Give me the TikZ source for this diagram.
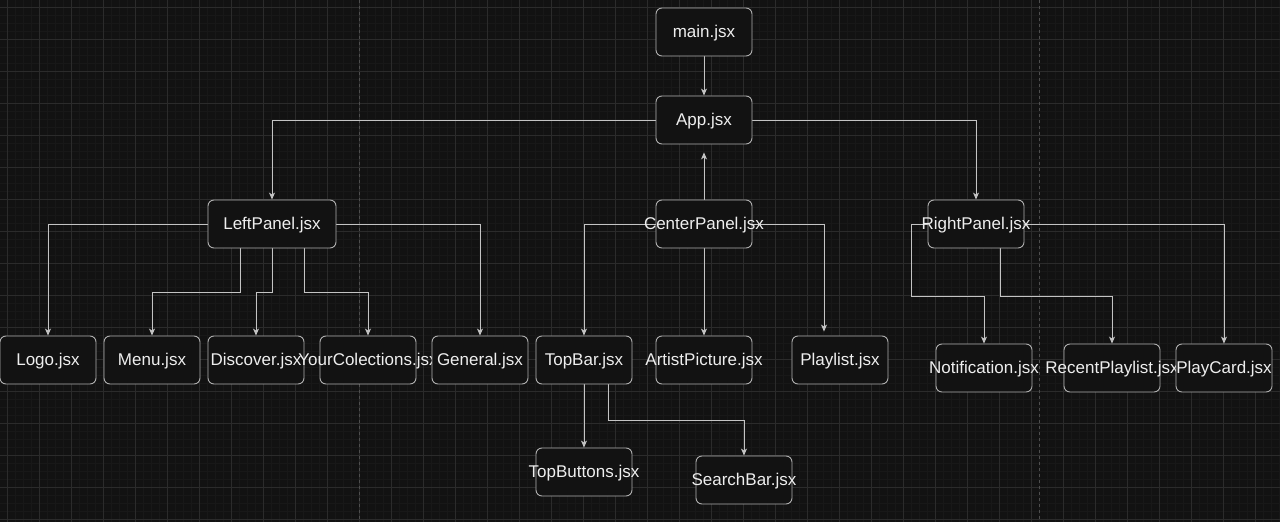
\documentclass[tikz,border=0pt]{standalone}
\usepackage{fontspec}
\setmainfont{Liberation Sans}
\usetikzlibrary{arrows.meta}
\definecolor{bgc}{HTML}{121212}
\definecolor{minorc}{HTML}{181818}
\definecolor{majorc}{HTML}{2B2B2B}
\definecolor{dashc}{HTML}{4E4E4E}
\definecolor{boxc}{HTML}{B0B0B0}
\definecolor{edgec}{HTML}{C4C4C4}
\definecolor{txtc}{HTML}{EEEEEE}
\pgfdeclarelayer{bgl}
\pgfdeclarelayer{edgel}
\pgfsetlayers{bgl,edgel,main}
\begin{document}
\begin{tikzpicture}[x=1pt,y=-1pt,
  box/.style={draw=boxc, fill=bgc, rounded corners=6pt, minimum width=96pt, minimum height=48pt, inner sep=0pt, line width=0.9pt},
  lbl/.style={text=txtc, font=\fontsize{17}{20}\selectfont, inner sep=0pt, yshift=-1.5pt},
  conn/.style={draw=edgec, line width=0.9pt, -{Stealth[length=7pt,width=6pt,inset=2pt]}},
  minorline/.style={draw=minorc, line width=0.6pt},
  majorline/.style={draw=majorc, line width=0.8pt},
  pagebreak/.style={draw=dashc, line width=0.8pt, dash pattern=on 3pt off 3pt}
]
\useasboundingbox (0,0) rectangle (1280,522);
\begin{pgfonlayer}{bgl}
  \fill[bgc] (0,0) rectangle (1280,522);
  \foreach \x in {7,15,...,1280} \draw[minorline] (\x,0) -- (\x,522);
  \foreach \y in {7,15,...,522} \draw[minorline] (0,\y) -- (1280,\y);
  \foreach \x in {7,39,...,1280} \draw[majorline] (\x,0) -- (\x,522);
  \foreach \y in {7,39,...,522} \draw[majorline] (0,\y) -- (1280,\y);
  \draw[pagebreak] (359.5,0) -- (359.5,522);
  \draw[pagebreak] (1039.5,0) -- (1039.5,522);
\end{pgfonlayer}

\node[box, label={[lbl]center:main.jsx}] (main) at (704,32) {};
\node[box, label={[lbl]center:App.jsx}] (app) at (704,120) {};
\node[box, minimum width=128pt, label={[lbl]center:LeftPanel.jsx}] (lp) at (272,224) {};
\node[box, label={[lbl]center:CenterPanel.jsx}] (cp) at (704,224) {};
\node[box, label={[lbl]center:RightPanel.jsx}] (rp) at (976,224) {};

\node[box, label={[lbl]center:Logo.jsx}] (logo) at (48,360) {};
\node[box, label={[lbl]center:Menu.jsx}] (menu) at (152,360) {};
\node[box, label={[lbl]center:Discover.jsx}] (disc) at (256,360) {};
\node[box, label={[lbl]center:YourColections.jsx}] (yc) at (368,360) {};
\node[box, label={[lbl]center:General.jsx}] (gen) at (480,360) {};
\node[box, label={[lbl]center:TopBar.jsx}] (topbar) at (584,360) {};
\node[box, label={[lbl]center:ArtistPicture.jsx}] (artist) at (704,360) {};
\node[box, label={[lbl]center:Playlist.jsx}] (playlist) at (840,360) {};
\node[box, label={[lbl]center:Notification.jsx}] (notif) at (984,368) {};
\node[box, label={[lbl]center:RecentPlaylist.jsx}] (recent) at (1112,368) {};
\node[box, label={[lbl]center:PlayCard.jsx}] (playcard) at (1224,368) {};
\node[box, label={[lbl]center:TopButtons.jsx}] (topbtn) at (584,472) {};
\node[box, label={[lbl]center:SearchBar.jsx}] (search) at (744,480) {};

\begin{pgfonlayer}{edgel}
  \draw[conn] (main.south) -- (app.north);
  \draw[conn] (app.west) -| (lp.north);
  \draw[conn] (app.east) -| (rp.north);
  \draw[conn] (cp.north) -- ([yshift=-8pt]app.south);
  \draw[conn] (lp.west) -| (logo.north);
  \draw[conn] ([xshift=-32pt]lp.south) -- ++(0,44) -| (menu.north);
  \draw[conn] (lp.south) -- ++(0,44) -| (disc.north);
  \draw[conn] ([xshift=32pt]lp.south) -- ++(0,44) -| (yc.north);
  \draw[conn] (lp.east) -| (gen.north);
  \draw[conn] (cp.west) -| (topbar.north);
  \draw[conn] (cp.south) -- (artist.north);
  \draw[conn] (cp.east) -| ([xshift=-16pt,yshift=4pt]playlist.north);
  \draw[conn] (topbar.south) -- (topbtn.north);
  \draw[conn] ([xshift=24pt]topbar.south) -- ++(0,36) -| (search.north);
  \draw[conn] (rp.west) -- ++(-16,0) -- ++(0,72) -| (notif.north);
  \draw[conn] ([xshift=24pt]rp.south) -- ++(0,48) -| (recent.north);
  \draw[conn] (rp.east) -| (playcard.north);
\end{pgfonlayer}
\end{tikzpicture}
\end{document}
